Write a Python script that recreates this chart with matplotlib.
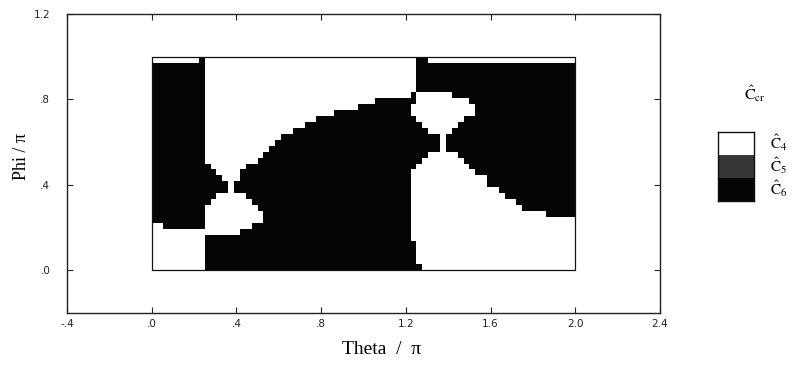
import numpy as np
import matplotlib
matplotlib.use("Agg")
import matplotlib.pyplot as plt
from matplotlib.path import Path
from matplotlib.colors import ListedColormap, BoundaryNorm
from matplotlib.patches import Rectangle

plt.rcParams["mathtext.fontset"] = "stix"

# ---------------- data ----------------
# map grid (Theta/pi in [0,2], Phi/pi in [0,1])
theta_span = (0.0, 2.0)
phi_span = (0.0, 1.0)
n_theta, n_phi = 72, 36

# default class everywhere is C6 (black); C4 (white) regions given by boundaries
default_class = 6
c4_top_left_strip = [(0.0, 0.972), (0.222, 0.972), (0.222, 1.0), (0.0, 1.0)]
c4_top_right_strip = [(1.30, 0.972), (2.0, 0.972), (2.0, 1.0), (1.30, 1.0)]
c4_upper = [(0.25, 1.0), (1.25, 1.0), (1.25, 0.825), (1.07, 0.80), (1.02, 0.775),
            (0.95, 0.755), (0.81, 0.72), (0.73, 0.695), (0.69, 0.665), (0.64, 0.635),
            (0.59, 0.605), (0.56, 0.575), (0.53, 0.545), (0.49, 0.515), (0.45, 0.48),
            (0.42, 0.45), (0.39, 0.41), (0.36, 0.41), (0.34, 0.42), (0.30, 0.46),
            (0.25, 0.51)]
c4_lower_mid = [(0.25, 0.165), (0.43, 0.165), (0.43, 0.195), (0.48, 0.195),
                (0.48, 0.22), (0.53, 0.225), (0.555, 0.25), (0.53, 0.275),
                (0.50, 0.30), (0.47, 0.33), (0.42, 0.36), (0.39, 0.36),
                (0.39, 0.42), (0.36, 0.42), (0.36, 0.36), (0.31, 0.345),
                (0.28, 0.32), (0.25, 0.30)]
c4_lower_left = [(0.0, 0.0), (0.25, 0.0), (0.25, 0.195), (0.06, 0.195),
                 (0.06, 0.222), (0.0, 0.222)]
c4_cap = [(1.25, 0.833), (1.42, 0.833), (1.43, 0.815), (1.49, 0.80), (1.54, 0.775),
          (1.54, 0.745), (1.49, 0.72), (1.45, 0.695), (1.43, 0.665), (1.39, 0.64),
          (1.39, 0.58), (1.36, 0.58), (1.36, 0.64), (1.32, 0.645), (1.29, 0.667),
          (1.26, 0.70), (1.225, 0.73), (1.225, 0.77), (1.25, 0.80)]
c4_lower_right = [(1.222, 0.47), (1.222, 0.135), (1.25, 0.135), (1.25, 0.03),
                  (1.278, 0.03), (1.278, 0.0), (2.0, 0.0), (2.0, 0.245),
                  (1.956, 0.25), (1.81, 0.275), (1.73, 0.30), (1.72, 0.32),
                  (1.65, 0.353), (1.62, 0.384), (1.587, 0.408), (1.564, 0.439),
                  (1.533, 0.463), (1.478, 0.494), (1.46, 0.52), (1.44, 0.55),
                  (1.40, 0.56), (1.39, 0.585), (1.36, 0.585), (1.34, 0.56),
                  (1.30, 0.535), (1.27, 0.51), (1.24, 0.48)]
c4_regions = [c4_top_left_strip, c4_top_right_strip, c4_upper, c4_lower_mid,
              c4_lower_left, c4_cap, c4_lower_right]

legend_classes = [4, 5, 6]
legend_labels = [r"$\hat{\mathrm{C}}_{4}$", r"$\hat{\mathrm{C}}_{5}$", r"$\hat{\mathrm{C}}_{6}$"]
legend_title = r"$\hat{\mathrm{C}}_{\mathrm{cr}}$"

xticks = [-0.4, 0.0, 0.4, 0.8, 1.2, 1.6, 2.0, 2.4]
xtick_labels = ["-.4", ".0", ".4", ".8", "1.2", "1.6", "2.0", "2.4"]
yticks = [0.0, 0.4, 0.8, 1.2]
ytick_labels = [".0", ".4", ".8", "1.2"]

# ---------------- build class grid ----------------
theta_edges = np.linspace(theta_span[0], theta_span[1], n_theta + 1)
phi_edges = np.linspace(phi_span[0], phi_span[1], n_phi + 1)
tc = 0.5 * (theta_edges[:-1] + theta_edges[1:])
pc = 0.5 * (phi_edges[:-1] + phi_edges[1:])
TT, PP = np.meshgrid(tc, pc)
pts = np.column_stack([TT.ravel(), PP.ravel()])
grid = np.full(TT.shape, default_class, dtype=float)
for poly in c4_regions:
    inside = Path(poly).contains_points(pts).reshape(TT.shape)
    grid[inside] = 4

cmap = ListedColormap(["#ffffff", "#363636", "#050505"])
norm = BoundaryNorm([3.5, 4.5, 5.5, 6.5], cmap.N)

# ---------------- figure ----------------
fig = plt.figure(figsize=(7.98, 3.72), dpi=100)
ax = fig.add_axes([67 / 798, 1 - 313 / 372, 593 / 798, 299 / 372])
ax.pcolormesh(theta_edges, phi_edges, grid, cmap=cmap, norm=norm, shading="flat")
ax.add_patch(Rectangle((0, 0), 2, 1, fill=False, edgecolor="#111111", linewidth=0.9))

ax.set_xlim(-0.4, 2.4)
ax.set_ylim(-0.2, 1.2)
ax.set_xticks(xticks)
ax.set_xticklabels(xtick_labels)
ax.set_yticks(yticks)
ax.set_yticklabels(ytick_labels)
ax.tick_params(axis="both", direction="in", length=4, width=0.8, colors="#222222",
               labelsize=7.5, top=True, right=True)
ax.tick_params(axis="x", pad=4)
ax.tick_params(axis="y", pad=12)
for lab in ax.get_xticklabels() + ax.get_yticklabels():
    lab.set_fontfamily("DejaVu Sans")
for s in ax.spines.values():
    s.set_linewidth(1.0)
    s.set_color("#222222")

ax.set_xlabel("Theta  /  π", fontsize=14, fontfamily="Liberation Serif")
ax.xaxis.set_label_coords((382 - 67) / 593, -(349 - 313) / 299)
ax.xaxis.label.set_va("center")
ax.set_ylabel("Phi / π", fontsize=13, fontfamily="Liberation Serif")
ax.yaxis.set_label_coords((21 - 67) / 593, (313 - 156) / 299)
ax.yaxis.label.set_va("center")

# legend key
lax = fig.add_axes([718 / 798, 1 - 201 / 372, 36 / 798, 69 / 372])
lax.pcolormesh(np.array(legend_classes[::-1], dtype=float).reshape(-1, 1),
               cmap=cmap, norm=norm)
lax.set_xticks([])
lax.set_yticks([])
for s in lax.spines.values():
    s.set_linewidth(1.0)
    s.set_color("#111111")

label_y = [143, 166, 189]
for lbl, yy in zip(legend_labels, label_y):
    fig.text(770 / 798, 1 - yy / 372, lbl, fontsize=11, va="center", ha="left")
fig.text(755 / 798, 1 - 94 / 372, legend_title, fontsize=11.5, va="center", ha="center")

fig.savefig("out.png", dpi=100)
